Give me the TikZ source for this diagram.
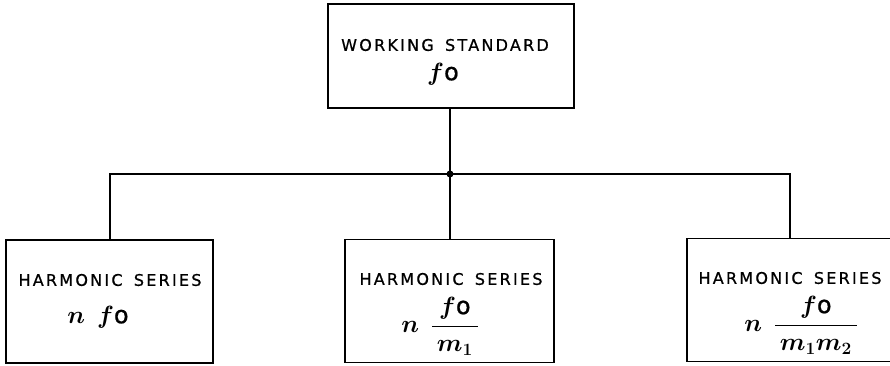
\documentclass[tikz,border=0pt]{standalone}
\usepackage{fontspec}
\setmainfont{DejaVu Sans}[LetterSpace=14,FakeBold=0.8]
\usepackage{amsmath}
\newcommand{\oo}{\text{\fontsize{24}{26}\selectfont o}}
\begin{document}
\begin{tikzpicture}[x=1pt,y=-1pt,
  box/.style={draw=black,line width=1.5pt,minimum width=#1,inner sep=0pt,minimum height=123pt},
  wire/.style={line width=2pt},
  lbl/.style={inner sep=0pt,font=\fontsize{16}{17}\selectfont},
  frm/.style={inner sep=0pt,font=\fontsize{26}{28}\selectfont\boldmath}]
\useasboundingbox (0,0) rectangle (890,365);
\node[box=246pt,minimum height=104pt] (ws) at (451,56) {};
\node[box=207pt] (h1) at (109.3,301.7) {};
\node[box=209pt] (h2) at (449.5,301) {};
\node[box=213pt] (h3) at (793.5,300.2) {};
\node[lbl] (t0) at (445,45) {WORKING\hspace{4pt} STANDARD};
\node[frm] (f0) at (443,74) {$f\oo$};
\node[lbl] (t1) at (110,280) {HARMONIC\hspace{4pt} SERIES};
\node[frm] (f1) at (98,317) {$n\ f\oo$};
\node[lbl] (t2) at (451,279) {HARMONIC\hspace{4pt} SERIES};
\node[frm] (f2) at (440,326) {$n\ \dfrac{f\oo}{\,m_1\,}$};
\node[lbl] (t3) at (790,278) {HARMONIC\hspace{4pt} SERIES};
\node[frm] (f3) at (801,325) {$n\ \dfrac{f\oo}{\,m_1 m_2\,}$};
\coordinate (j) at (450,174);
\coordinate (l) at (110,174);
\coordinate (r) at (790,174);
\draw[wire] (ws.south -| j) -- (j) -- (h2.north -| j);
\draw[wire] (h1.north -| l) -- (l) -- (r) -- (h3.north -| r);
\fill (j) circle (3.5pt);
\end{tikzpicture}
\end{document}
